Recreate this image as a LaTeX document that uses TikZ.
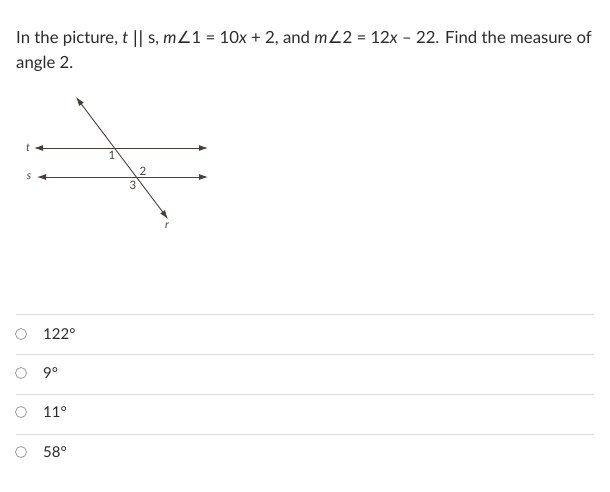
\documentclass[tikz,border=0pt]{standalone}
\usepackage{fontspec}
\setmainfont{Lato}
\newfontfamily\symfont{DejaVu Sans}
\usetikzlibrary{arrows.meta}

\definecolor{figbrown}{HTML}{4A4037}
\definecolor{rulegray}{HTML}{DCDCDC}
\definecolor{txtgray}{HTML}{2B2B2B}

\tikzset{
  ray/.style={figbrown, line width=0.9pt, {Latex[length=9pt,width=6pt]}-{Latex[length=9pt,width=6pt]}},
  linelabel/.style={figbrown, font=\fontsize{11}{11}\selectfont\itshape, inner sep=0pt},
  anglelabel/.style={figbrown, font=\fontsize{11.5}{11.5}\selectfont, inner sep=0pt},
  choice/.style={anchor=west, text=txtgray, font=\fontsize{15}{15}\selectfont, inner sep=0pt},
  radio/.style={circle, draw=gray!90, line width=0.7pt, minimum size=11pt, inner sep=0pt}
}

\begin{document}
\begin{tikzpicture}[x=1pt,y=-1pt]
  \useasboundingbox (0,0) rectangle (610,491);

  % question
  \node[anchor=base west, inner sep=0pt, text=txtgray, font=\fontsize{16.75}{16.75}\selectfont] (qline1) at (16,43)
    {In the picture, \textit{t} {\symfont||} s, \textit{m}{\symfont∠}1 = 10\textit{x} + 2, and \textit{m}{\symfont∠}2 = 12\textit{x} – 22. Find the measure of};
  \node[anchor=base west, inner sep=0pt, text=txtgray, font=\fontsize{16.75}{16.75}\selectfont] (qline2) at (16,68) {angle 2.};

  % figure
  \coordinate (tL) at (34,148);
  \coordinate (tR) at (208,148);
  \coordinate (sL) at (37,177);
  \coordinate (sR) at (208,177);
  \coordinate (rT) at (76,97);
  \coordinate (rB) at (168,219);
  \draw[ray] (tL) -- (tR);
  \draw[ray] (sL) -- (sR);
  \draw[ray] (rT) -- (rB);

  \node[linelabel] (tname) at (28,148) {t};
  \node[linelabel] (sname) at (29,177) {s};
  \node[linelabel] (rname) at (167,226) {r};
  \node[anglelabel] (one) at (112,155) {1};
  \node[anglelabel] (two) at (143,171) {2};
  \node[anglelabel] (three) at (133,185) {3};

  % choices
  \foreach \yy in {314,354,394,434}
    \draw[rulegray, line width=0.8pt] (16,\yy) -- (594,\yy);
  \foreach \yy/\val/\nm in {334/122/a,373/9/b,412/11/c,452/58/d} {
    \node[radio] (radio\nm) at (21,\yy) {};
    \node[choice] (ans\nm) at (43,\yy) {\val°};
  }
\end{tikzpicture}
\end{document}
